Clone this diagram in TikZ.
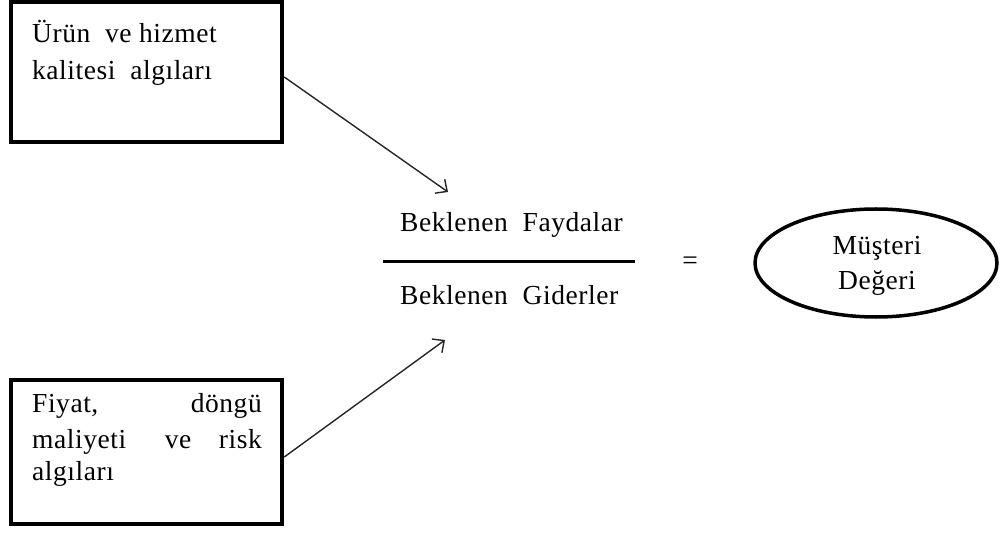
\documentclass[tikz,border=0pt]{standalone}
\usepackage{fontspec}
\setmainfont{Liberation Serif}[LetterSpace=2]
\usetikzlibrary{arrows.meta}
\begin{document}
\begin{tikzpicture}[x=1pt,y=-1pt,
  box/.style={draw, line width=4.5pt, inner sep=0pt, minimum width=271pt, minimum height=140pt},
  txt/.style={inner sep=0pt, font=\fontsize{27.5}{33}\selectfont},
  conn/.style={draw=black!85, line width=1.4pt, -{Straight Barb[length=9pt,width=17pt,line width=1.4pt]}}]
\useasboundingbox (0,0) rectangle (1000,534);
\fill[white] (0,0) rectangle (1000,534);
% boxes
\node[box] (b1) at (146.5,72) {};
\node[box, minimum height=144pt] (b2) at (146.5,452) {};
% box 1 text
\node[txt, anchor=base west] (t11) at (32,43) {Ürün\ \ ve hizmet};
\node[txt, anchor=base west] (t12) at (32,80) {kalitesi\ \ algıları};
% box 2 text
\node[txt, anchor=base west] (t21a) at (32,412) {Fiyat,};
\node[txt, anchor=base east] (t21b) at (262,412) {döngü};
\node[txt, anchor=base west] (t22a) at (32,448) {maliyeti};
\node[txt, anchor=base] (t22b) at (178,448) {ve};
\node[txt, anchor=base east] (t22c) at (262,448) {risk};
\node[txt, anchor=base west] (t23) at (32,480) {algıları};
% fraction
\node[txt, anchor=base west] (num) at (400,232) {Beklenen\ \ Faydalar};
\node[txt, anchor=base west] (den) at (400,305) {Beklenen\ \ Giderler};
\coordinate (fl) at (383,262);
\coordinate (fr) at (635,262);
\draw[line width=3pt] (fl) -- (fr);
\node[txt] (eq) at (690,263) {=};
% ellipse
\draw[line width=3.5pt] (876,263) ellipse [x radius=121, y radius=54];
\node[txt, anchor=base] (m1) at (877,255) {Müşteri};
\node[txt, anchor=base] (m2) at (877,290) {Değeri};
% arrows
\coordinate (a1) at (448,192);
\coordinate (a2) at (445,340);
\draw[conn] ([yshift=-5pt]b1.east) -- (a1);
\draw[conn] ([yshift=-5pt]b2.east) -- (a2);
\end{tikzpicture}
\end{document}
